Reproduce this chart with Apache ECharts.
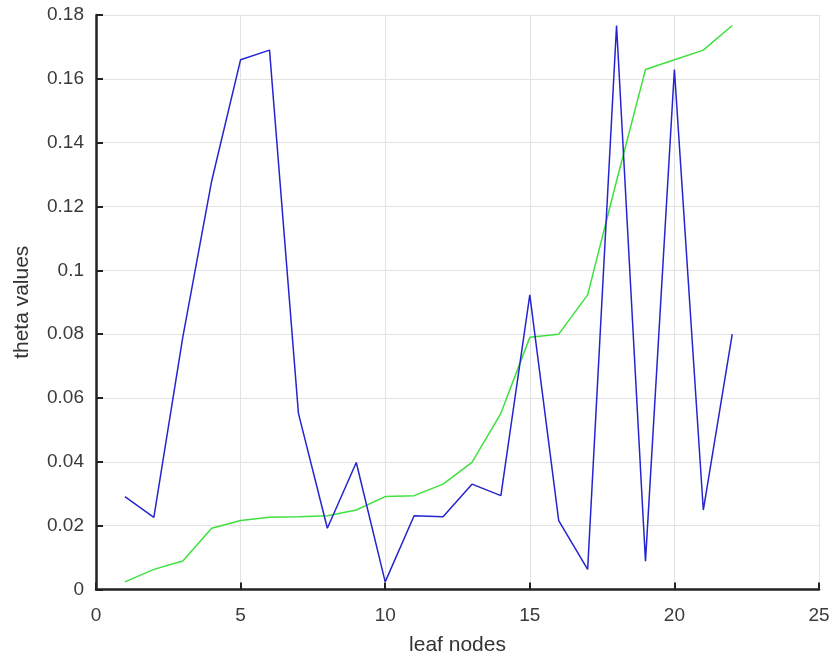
<!DOCTYPE html>
<html>
<head>
<meta charset="utf-8">
<script src="https://cdn.jsdelivr.net/npm/echarts@6/dist/echarts.min.js"></script>
<style>html,body{margin:0;padding:0;background:#fff}#c{width:833px;height:661px}</style>
</head>
<body>
<div id="c"></div>
<script>
const leafNodes = [1,2,3,4,5,6,7,8,9,10,11,12,13,14,15,16,17,18,19,20,21,22];
const thetaBlue = [0.0291,0.0226,0.079,0.128,0.166,0.169,0.0552,0.0192,0.0398,0.0024,0.0231,0.0228,0.033,0.0294,0.0923,0.0216,0.0063,0.1767,0.0089,0.1629,0.0249,0.080];
const thetaGreen = [0.0024,0.0063,0.0089,0.0192,0.0216,0.0226,0.0228,0.0231,0.0249,0.0291,0.0294,0.033,0.0398,0.0552,0.079,0.080,0.0923,0.128,0.1629,0.166,0.169,0.1767];
const xTicks = [0,5,10,15,20,25];
const yTicks = [0,0.02,0.04,0.06,0.08,0.1,0.12,0.14,0.16,0.18];

const chart = echarts.init(document.getElementById('c'));
const font = 'Liberation Sans, Arial, sans-serif';
chart.setOption({
  animation: false,
  grid: {left: 96, right: 14, top: 15, bottom: 71.5, containLabel: false},
  xAxis: {
    type: 'value', min: xTicks[0], max: xTicks[xTicks.length-1], interval: 5,
    name: 'leaf nodes', nameLocation: 'middle', nameGap: 45,
    nameTextStyle: {fontSize: 21, color: '#333', fontFamily: font},
    axisLine: {onZero: false, lineStyle: {color: '#222', width: 2.5}},
    axisTick: {inside: true, length: 7, lineStyle: {color: '#222', width: 2}},
    axisLabel: {margin: 17, fontSize: 19, color: '#3a3a3a', fontFamily: font},
    splitLine: {show: true, lineStyle: {color: '#e2e2e2', width: 1}}
  },
  yAxis: {
    type: 'value', min: yTicks[0], max: yTicks[yTicks.length-1], interval: 0.02,
    name: 'theta values', nameLocation: 'middle', nameGap: 63,
    nameTextStyle: {fontSize: 21, color: '#333', fontFamily: font},
    axisLine: {show: true, lineStyle: {color: '#222', width: 2.5}},
    axisTick: {show: true, inside: true, length: 7, lineStyle: {color: '#222', width: 2}},
    axisLabel: {margin: 12, fontSize: 19, color: '#3a3a3a', fontFamily: font,
      formatter: v => String(Math.round(v*100)/100)},
    splitLine: {show: true, lineStyle: {color: '#e2e2e2', width: 1}}
  },
  series: [
    {type: 'line', data: leafNodes.map((x,i)=>[x, thetaGreen[i]]), symbol: 'none',
     lineStyle: {color: '#3ee03e', width: 1.5}, itemStyle: {color: '#3ee03e'}},
    {type: 'line', data: leafNodes.map((x,i)=>[x, thetaBlue[i]]), symbol: 'none',
     lineStyle: {color: '#2525d0', width: 1.5}, itemStyle: {color: '#2525d0'}}
  ]
});
</script>
</body>
</html>
